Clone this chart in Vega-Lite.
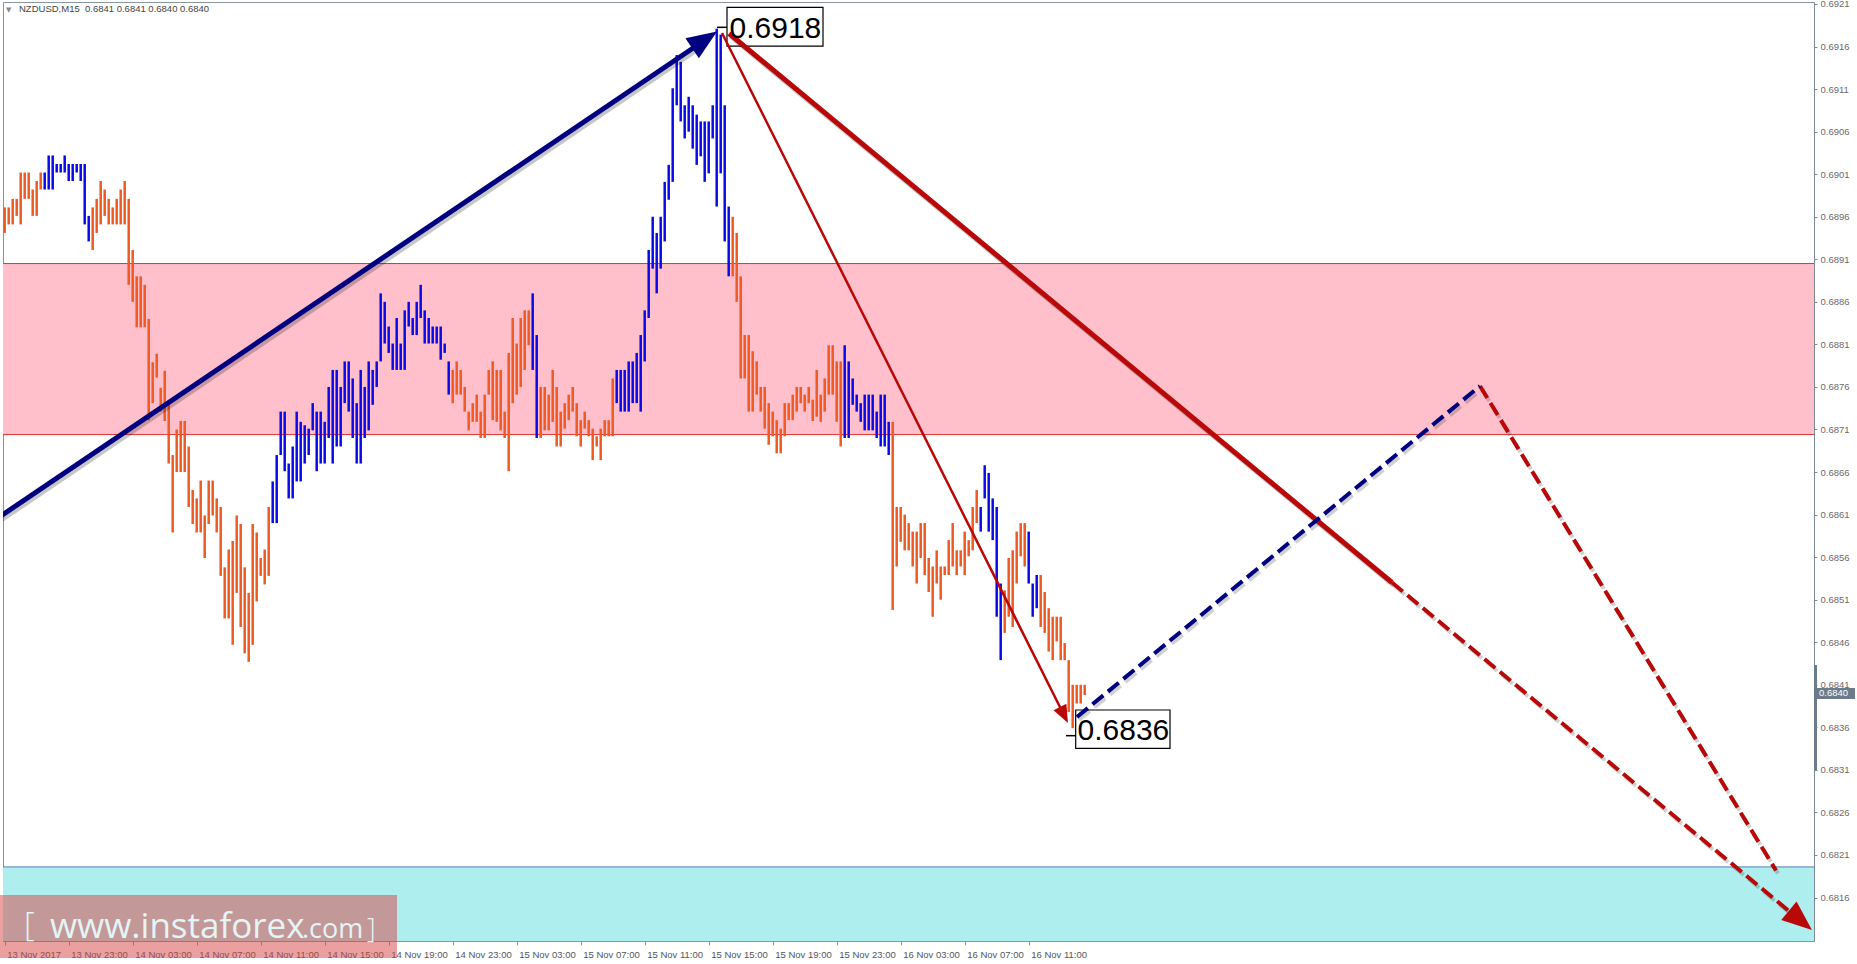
{
"$schema": "https://vega.github.io/schema/vega-lite/v6.json",
"width": 1811, "height": 939,
"autosize": "none",
"padding": {"left": 3, "top": 2, "right": 43, "bottom": 23},
"background": "#ffffff",
"config": {"view": {"stroke": "#8795a1", "strokeWidth": 1}, "font": "Liberation Sans"},
"encoding": {
  "x": {"field": "t", "type": "temporal",
    "scale": {"type": "utc", "domain": [{"year":2017,"month":11,"date":13,"hours":18,"minutes":53,"seconds":37,"milliseconds":500,"utc":true},{"year":2017,"month":11,"date":18,"hours":12,"minutes":4,"seconds":52,"milliseconds":500,"utc":true}]},
    "axis": {"title": null, "grid": false, "values": [
      {"year":2017,"month":11,"date":13,"hours":19,"utc":true},{"year":2017,"month":11,"date":13,"hours":23,"utc":true},
      {"year":2017,"month":11,"date":14,"hours":3,"utc":true},{"year":2017,"month":11,"date":14,"hours":7,"utc":true},
      {"year":2017,"month":11,"date":14,"hours":11,"utc":true},{"year":2017,"month":11,"date":14,"hours":15,"utc":true},
      {"year":2017,"month":11,"date":14,"hours":19,"utc":true},{"year":2017,"month":11,"date":14,"hours":23,"utc":true},
      {"year":2017,"month":11,"date":15,"hours":3,"utc":true},{"year":2017,"month":11,"date":15,"hours":7,"utc":true},
      {"year":2017,"month":11,"date":15,"hours":11,"utc":true},{"year":2017,"month":11,"date":15,"hours":15,"utc":true},
      {"year":2017,"month":11,"date":15,"hours":19,"utc":true},{"year":2017,"month":11,"date":15,"hours":23,"utc":true},
      {"year":2017,"month":11,"date":16,"hours":3,"utc":true},{"year":2017,"month":11,"date":16,"hours":7,"utc":true},
      {"year":2017,"month":11,"date":16,"hours":11,"utc":true}],
      "labelExpr": "datum.index == 0 ? '13 Nov 2017' : utcFormat(datum.value, '%d %b %H:%M')",
      "domainColor": "#8795a1", "tickColor": "#8795a1", "tickSize": 4, "labelAlign": "left", "labelBaseline": "top", "labelPadding": 4, "labelOffset": 2,
      "labelFontSize": 9.5, "labelFont": "Liberation Sans", "labelColor": "#555555", "labelOverlap": false, "labelFlush": false, "labelBound": false}},
  "y": {"field": "p", "type": "quantitative",
    "scale": {"domain": [0.6810894, 0.6921235], "nice": false, "zero": false},
    "axis": {"orient": "right", "title": null, "grid": false, "format": ".4f",
      "values": [0.6816,0.6821,0.6826,0.6831,0.6836,0.6841,0.6846,0.6851,0.6856,0.6861,0.6866,0.6871,0.6876,0.6881,0.6886,0.6891,0.6896,0.6901,0.6906,0.6911,0.6916,0.6921],
      "domainColor": "#7d8b97", "tickColor": "#7d8b97", "tickSize": 3, "labelPadding": 3, "labelAlign": "left", "labelBaseline": "middle",
      "labelFontSize": 9.5, "labelFont": "Liberation Sans", "labelColor": "#6a6a6a", "labelOverlap": false, "labelFlush": false, "labelBound": false}}
},
"layer": [
  {"data": {"values": [{"t":"2017-11-13T18:53:37.500Z","t2":"2017-11-18T12:04:52.500Z","p":0.68905,"p2":0.68704}], "format": {"parse": {"t":"date","t2":"date"}}},
   "mark": {"type": "rect", "fill": "#FFC0CB"}, "encoding": {"x2": {"field": "t2"}, "y2": {"field": "p2"}}},
  {"data": {"values": [{"t":"2017-11-13T18:53:37.500Z","t2":"2017-11-18T12:04:52.500Z","p":0.68905},{"t":"2017-11-13T18:53:37.500Z","t2":"2017-11-18T12:04:52.500Z","p":0.68704}], "format": {"parse": {"t":"date","t2":"date"}}},
   "mark": {"type": "rule", "color": "#E03030", "strokeWidth": 1}, "encoding": {"x2": {"field": "t2"}}},
  {"data": {"values": [{"t":"2017-11-13T18:53:37.500Z","t2":"2017-11-18T12:04:52.500Z","p":0.68196,"p2":0.6810894}], "format": {"parse": {"t":"date","t2":"date"}}},
   "mark": {"type": "rect", "fill": "#AFEEEE"}, "encoding": {"x2": {"field": "t2"}, "y2": {"field": "p2"}}},
  {"data": {"values": [{"t":"2017-11-13T18:53:37.500Z","t2":"2017-11-18T12:04:52.500Z","p":0.68196}], "format": {"parse": {"t":"date","t2":"date"}}},
   "mark": {"type": "rule", "color": "#4D7FB5", "strokeWidth": 1}, "encoding": {"x2": {"field": "t2"}}},
  {"data": {"values": [{"t":"2017-11-13T19:04:52Z","p":0.692002,"s":"\u25bc"}], "format": {"parse": {"t":"date"}}},
   "mark": {"type": "text", "align": "left", "baseline": "alphabetic", "fontSize": 7, "font": "DejaVu Sans", "color": "#8a8a8a"}, "encoding": {"text": {"field": "s"}}},
  {"data": {"values": [{"t":"2017-11-13T19:53:37Z","p":0.692002,"s":"NZDUSD,M15\u00a0\u00a00.6841 0.6841 0.6840 0.6840"}], "format": {"parse": {"t":"date"}}},
   "mark": {"type": "text", "align": "left", "baseline": "alphabetic", "fontSize": 9.5, "font": "Liberation Sans", "color": "#444444"}, "encoding": {"text": {"field": "s"}}},
  {"data": {"format": {"parse": {"t": "date"}}, "values": [
{"t":"2017-11-13T19:00Z","p":0.68971,"p2":0.68941,"d":"dn"},
{"t":"2017-11-13T19:15Z","p":0.68971,"p2":0.68951,"d":"dn"},
{"t":"2017-11-13T19:30Z","p":0.68981,"p2":0.68951,"d":"dn"},
{"t":"2017-11-13T19:45Z","p":0.68981,"p2":0.68961,"d":"dn"},
{"t":"2017-11-13T20:00Z","p":0.69012,"p2":0.68951,"d":"dn"},
{"t":"2017-11-13T20:15Z","p":0.69012,"p2":0.68981,"d":"dn"},
{"t":"2017-11-13T20:30Z","p":0.69012,"p2":0.68981,"d":"dn"},
{"t":"2017-11-13T20:45Z","p":0.68992,"p2":0.68961,"d":"dn"},
{"t":"2017-11-13T21:00Z","p":0.69002,"p2":0.68961,"d":"dn"},
{"t":"2017-11-13T21:15Z","p":0.69012,"p2":0.68992,"d":"dn"},
{"t":"2017-11-13T21:30Z","p":0.69012,"p2":0.68992,"d":"up"},
{"t":"2017-11-13T21:45Z","p":0.69032,"p2":0.68992,"d":"up"},
{"t":"2017-11-13T22:00Z","p":0.69032,"p2":0.68992,"d":"up"},
{"t":"2017-11-13T22:15Z","p":0.69022,"p2":0.69012,"d":"up"},
{"t":"2017-11-13T22:30Z","p":0.69022,"p2":0.69012,"d":"up"},
{"t":"2017-11-13T22:45Z","p":0.69032,"p2":0.69012,"d":"up"},
{"t":"2017-11-13T23:00Z","p":0.69022,"p2":0.69002,"d":"up"},
{"t":"2017-11-13T23:15Z","p":0.69022,"p2":0.69002,"d":"up"},
{"t":"2017-11-13T23:30Z","p":0.69022,"p2":0.69012,"d":"up"},
{"t":"2017-11-13T23:45Z","p":0.69022,"p2":0.69002,"d":"up"},
{"t":"2017-11-14T00:00Z","p":0.69022,"p2":0.68951,"d":"up"},
{"t":"2017-11-14T00:15Z","p":0.68961,"p2":0.68931,"d":"up"},
{"t":"2017-11-14T00:30Z","p":0.68971,"p2":0.68921,"d":"dn"},
{"t":"2017-11-14T00:45Z","p":0.68981,"p2":0.68941,"d":"dn"},
{"t":"2017-11-14T01:00Z","p":0.69002,"p2":0.68951,"d":"dn"},
{"t":"2017-11-14T01:15Z","p":0.68992,"p2":0.68961,"d":"dn"},
{"t":"2017-11-14T01:30Z","p":0.68981,"p2":0.68951,"d":"dn"},
{"t":"2017-11-14T01:45Z","p":0.68971,"p2":0.68951,"d":"dn"},
{"t":"2017-11-14T02:00Z","p":0.68981,"p2":0.68951,"d":"dn"},
{"t":"2017-11-14T02:15Z","p":0.68992,"p2":0.68951,"d":"dn"},
{"t":"2017-11-14T02:30Z","p":0.69002,"p2":0.68951,"d":"dn"},
{"t":"2017-11-14T02:45Z","p":0.68981,"p2":0.68880,"d":"dn"},
{"t":"2017-11-14T03:00Z","p":0.68921,"p2":0.68860,"d":"dn"},
{"t":"2017-11-14T03:15Z","p":0.68890,"p2":0.68830,"d":"dn"},
{"t":"2017-11-14T03:30Z","p":0.68890,"p2":0.68830,"d":"dn"},
{"t":"2017-11-14T03:45Z","p":0.68880,"p2":0.68830,"d":"dn"},
{"t":"2017-11-14T04:00Z","p":0.68840,"p2":0.68721,"d":"dn"},
{"t":"2017-11-14T04:15Z","p":0.68789,"p2":0.68741,"d":"dn"},
{"t":"2017-11-14T04:30Z","p":0.68799,"p2":0.68771,"d":"dn"},
{"t":"2017-11-14T04:45Z","p":0.68759,"p2":0.68731,"d":"dn"},
{"t":"2017-11-14T05:00Z","p":0.68779,"p2":0.68720,"d":"dn"},
{"t":"2017-11-14T05:15Z","p":0.68739,"p2":0.68670,"d":"dn"},
{"t":"2017-11-14T05:30Z","p":0.68680,"p2":0.68589,"d":"dn"},
{"t":"2017-11-14T05:45Z","p":0.68710,"p2":0.68660,"d":"dn"},
{"t":"2017-11-14T06:00Z","p":0.68720,"p2":0.68660,"d":"dn"},
{"t":"2017-11-14T06:15Z","p":0.68720,"p2":0.68660,"d":"dn"},
{"t":"2017-11-14T06:30Z","p":0.68690,"p2":0.68619,"d":"dn"},
{"t":"2017-11-14T06:45Z","p":0.68639,"p2":0.68599,"d":"dn"},
{"t":"2017-11-14T07:00Z","p":0.68629,"p2":0.68589,"d":"dn"},
{"t":"2017-11-14T07:15Z","p":0.68650,"p2":0.68589,"d":"dn"},
{"t":"2017-11-14T07:30Z","p":0.68609,"p2":0.68559,"d":"dn"},
{"t":"2017-11-14T07:45Z","p":0.68650,"p2":0.68599,"d":"dn"},
{"t":"2017-11-14T08:00Z","p":0.68650,"p2":0.68609,"d":"dn"},
{"t":"2017-11-14T08:15Z","p":0.68629,"p2":0.68589,"d":"dn"},
{"t":"2017-11-14T08:30Z","p":0.68619,"p2":0.68538,"d":"dn"},
{"t":"2017-11-14T08:45Z","p":0.68548,"p2":0.68488,"d":"dn"},
{"t":"2017-11-14T09:00Z","p":0.68569,"p2":0.68488,"d":"dn"},
{"t":"2017-11-14T09:15Z","p":0.68579,"p2":0.68457,"d":"dn"},
{"t":"2017-11-14T09:30Z","p":0.68609,"p2":0.68518,"d":"dn"},
{"t":"2017-11-14T09:45Z","p":0.68599,"p2":0.68478,"d":"dn"},
{"t":"2017-11-14T10:00Z","p":0.68548,"p2":0.68447,"d":"dn"},
{"t":"2017-11-14T10:15Z","p":0.68518,"p2":0.68437,"d":"dn"},
{"t":"2017-11-14T10:30Z","p":0.68599,"p2":0.68457,"d":"dn"},
{"t":"2017-11-14T10:45Z","p":0.68589,"p2":0.68508,"d":"dn"},
{"t":"2017-11-14T11:00Z","p":0.68559,"p2":0.68538,"d":"dn"},
{"t":"2017-11-14T11:15Z","p":0.68569,"p2":0.68528,"d":"dn"},
{"t":"2017-11-14T11:30Z","p":0.68619,"p2":0.68538,"d":"dn"},
{"t":"2017-11-14T11:45Z","p":0.68649,"p2":0.68600,"d":"up"},
{"t":"2017-11-14T12:00Z","p":0.68680,"p2":0.68600,"d":"up"},
{"t":"2017-11-14T12:15Z","p":0.68731,"p2":0.68680,"d":"up"},
{"t":"2017-11-14T12:30Z","p":0.68731,"p2":0.68661,"d":"up"},
{"t":"2017-11-14T12:45Z","p":0.68670,"p2":0.68629,"d":"up"},
{"t":"2017-11-14T13:00Z","p":0.68690,"p2":0.68629,"d":"up"},
{"t":"2017-11-14T13:15Z","p":0.68731,"p2":0.68649,"d":"up"},
{"t":"2017-11-14T13:30Z","p":0.68719,"p2":0.68649,"d":"up"},
{"t":"2017-11-14T13:45Z","p":0.68715,"p2":0.68670,"d":"up"},
{"t":"2017-11-14T14:00Z","p":0.68711,"p2":0.68680,"d":"up"},
{"t":"2017-11-14T14:15Z","p":0.68741,"p2":0.68709,"d":"up"},
{"t":"2017-11-14T14:30Z","p":0.68731,"p2":0.68661,"d":"up"},
{"t":"2017-11-14T14:45Z","p":0.68731,"p2":0.68670,"d":"up"},
{"t":"2017-11-14T15:00Z","p":0.68719,"p2":0.68670,"d":"up"},
{"t":"2017-11-14T15:15Z","p":0.68760,"p2":0.68700,"d":"up"},
{"t":"2017-11-14T15:30Z","p":0.68780,"p2":0.68670,"d":"up"},
{"t":"2017-11-14T15:45Z","p":0.68780,"p2":0.68690,"d":"up"},
{"t":"2017-11-14T16:00Z","p":0.68760,"p2":0.68690,"d":"up"},
{"t":"2017-11-14T16:15Z","p":0.68790,"p2":0.68741,"d":"up"},
{"t":"2017-11-14T16:30Z","p":0.68790,"p2":0.68731,"d":"up"},
{"t":"2017-11-14T16:45Z","p":0.68770,"p2":0.68700,"d":"up"},
{"t":"2017-11-14T17:00Z","p":0.68741,"p2":0.68670,"d":"up"},
{"t":"2017-11-14T17:15Z","p":0.68780,"p2":0.68670,"d":"up"},
{"t":"2017-11-14T17:30Z","p":0.68760,"p2":0.68700,"d":"up"},
{"t":"2017-11-14T17:45Z","p":0.68790,"p2":0.68709,"d":"up"},
{"t":"2017-11-14T18:00Z","p":0.68780,"p2":0.68739,"d":"up"},
{"t":"2017-11-14T18:15Z","p":0.68790,"p2":0.68760,"d":"up"},
{"t":"2017-11-14T18:30Z","p":0.68870,"p2":0.68790,"d":"up"},
{"t":"2017-11-14T18:45Z","p":0.68860,"p2":0.68811,"d":"up"},
{"t":"2017-11-14T19:00Z","p":0.68831,"p2":0.68800,"d":"up"},
{"t":"2017-11-14T19:15Z","p":0.68811,"p2":0.68780,"d":"up"},
{"t":"2017-11-14T19:30Z","p":0.68841,"p2":0.68780,"d":"up"},
{"t":"2017-11-14T19:45Z","p":0.68811,"p2":0.68780,"d":"up"},
{"t":"2017-11-14T20:00Z","p":0.68850,"p2":0.68780,"d":"up"},
{"t":"2017-11-14T20:15Z","p":0.68860,"p2":0.68831,"d":"up"},
{"t":"2017-11-14T20:30Z","p":0.68841,"p2":0.68821,"d":"up"},
{"t":"2017-11-14T20:45Z","p":0.68860,"p2":0.68821,"d":"up"},
{"t":"2017-11-14T21:00Z","p":0.68880,"p2":0.68841,"d":"up"},
{"t":"2017-11-14T21:15Z","p":0.68850,"p2":0.68811,"d":"up"},
{"t":"2017-11-14T21:30Z","p":0.68841,"p2":0.68811,"d":"up"},
{"t":"2017-11-14T21:45Z","p":0.68831,"p2":0.68811,"d":"up"},
{"t":"2017-11-14T22:00Z","p":0.68831,"p2":0.68811,"d":"up"},
{"t":"2017-11-14T22:15Z","p":0.68831,"p2":0.68792,"d":"up"},
{"t":"2017-11-14T22:30Z","p":0.68811,"p2":0.68800,"d":"up"},
{"t":"2017-11-14T22:45Z","p":0.68790,"p2":0.68751,"d":"up"},
{"t":"2017-11-14T23:00Z","p":0.68780,"p2":0.68741,"d":"dn"},
{"t":"2017-11-14T23:15Z","p":0.68790,"p2":0.68751,"d":"dn"},
{"t":"2017-11-14T23:30Z","p":0.68780,"p2":0.68751,"d":"dn"},
{"t":"2017-11-14T23:45Z","p":0.68760,"p2":0.68731,"d":"dn"},
{"t":"2017-11-15T00:00Z","p":0.68731,"p2":0.68709,"d":"dn"},
{"t":"2017-11-15T00:15Z","p":0.68741,"p2":0.68719,"d":"dn"},
{"t":"2017-11-15T00:30Z","p":0.68751,"p2":0.68719,"d":"dn"},
{"t":"2017-11-15T00:45Z","p":0.68731,"p2":0.68700,"d":"dn"},
{"t":"2017-11-15T01:00Z","p":0.68751,"p2":0.68700,"d":"dn"},
{"t":"2017-11-15T01:15Z","p":0.68780,"p2":0.68751,"d":"dn"},
{"t":"2017-11-15T01:30Z","p":0.68790,"p2":0.68721,"d":"dn"},
{"t":"2017-11-15T01:45Z","p":0.68780,"p2":0.68719,"d":"dn"},
{"t":"2017-11-15T02:00Z","p":0.68780,"p2":0.68709,"d":"dn"},
{"t":"2017-11-15T02:15Z","p":0.68731,"p2":0.68700,"d":"dn"},
{"t":"2017-11-15T02:30Z","p":0.68800,"p2":0.68661,"d":"dn"},
{"t":"2017-11-15T02:45Z","p":0.68841,"p2":0.68741,"d":"dn"},
{"t":"2017-11-15T03:00Z","p":0.68811,"p2":0.68751,"d":"dn"},
{"t":"2017-11-15T03:15Z","p":0.68841,"p2":0.68760,"d":"dn"},
{"t":"2017-11-15T03:30Z","p":0.68850,"p2":0.68780,"d":"dn"},
{"t":"2017-11-15T03:45Z","p":0.68850,"p2":0.68809,"d":"dn"},
{"t":"2017-11-15T04:00Z","p":0.68870,"p2":0.68780,"d":"up"},
{"t":"2017-11-15T04:15Z","p":0.68821,"p2":0.68700,"d":"up"},
{"t":"2017-11-15T04:30Z","p":0.68760,"p2":0.68700,"d":"dn"},
{"t":"2017-11-15T04:45Z","p":0.68760,"p2":0.68709,"d":"dn"},
{"t":"2017-11-15T05:00Z","p":0.68751,"p2":0.68709,"d":"dn"},
{"t":"2017-11-15T05:15Z","p":0.68780,"p2":0.68719,"d":"dn"},
{"t":"2017-11-15T05:30Z","p":0.68760,"p2":0.68690,"d":"dn"},
{"t":"2017-11-15T05:45Z","p":0.68731,"p2":0.68690,"d":"dn"},
{"t":"2017-11-15T06:00Z","p":0.68741,"p2":0.68711,"d":"dn"},
{"t":"2017-11-15T06:15Z","p":0.68751,"p2":0.68721,"d":"dn"},
{"t":"2017-11-15T06:30Z","p":0.68760,"p2":0.68731,"d":"dn"},
{"t":"2017-11-15T06:45Z","p":0.68741,"p2":0.68702,"d":"dn"},
{"t":"2017-11-15T07:00Z","p":0.68721,"p2":0.68690,"d":"dn"},
{"t":"2017-11-15T07:15Z","p":0.68731,"p2":0.68711,"d":"dn"},
{"t":"2017-11-15T07:30Z","p":0.68721,"p2":0.68702,"d":"dn"},
{"t":"2017-11-15T07:45Z","p":0.68711,"p2":0.68674,"d":"dn"},
{"t":"2017-11-15T08:00Z","p":0.68702,"p2":0.68690,"d":"dn"},
{"t":"2017-11-15T08:15Z","p":0.68711,"p2":0.68674,"d":"dn"},
{"t":"2017-11-15T08:30Z","p":0.68721,"p2":0.68702,"d":"dn"},
{"t":"2017-11-15T08:45Z","p":0.68721,"p2":0.68702,"d":"dn"},
{"t":"2017-11-15T09:00Z","p":0.68770,"p2":0.68702,"d":"dn"},
{"t":"2017-11-15T09:15Z","p":0.68780,"p2":0.68741,"d":"up"},
{"t":"2017-11-15T09:30Z","p":0.68780,"p2":0.68731,"d":"up"},
{"t":"2017-11-15T09:45Z","p":0.68780,"p2":0.68731,"d":"up"},
{"t":"2017-11-15T10:00Z","p":0.68790,"p2":0.68731,"d":"up"},
{"t":"2017-11-15T10:15Z","p":0.68790,"p2":0.68741,"d":"up"},
{"t":"2017-11-15T10:30Z","p":0.68800,"p2":0.68741,"d":"up"},
{"t":"2017-11-15T10:45Z","p":0.68821,"p2":0.68731,"d":"up"},
{"t":"2017-11-15T11:00Z","p":0.68850,"p2":0.68790,"d":"up"},
{"t":"2017-11-15T11:15Z","p":0.68921,"p2":0.68841,"d":"up"},
{"t":"2017-11-15T11:30Z","p":0.68960,"p2":0.68899,"d":"up"},
{"t":"2017-11-15T11:45Z","p":0.68941,"p2":0.68870,"d":"up"},
{"t":"2017-11-15T12:00Z","p":0.68960,"p2":0.68899,"d":"up"},
{"t":"2017-11-15T12:15Z","p":0.69001,"p2":0.68931,"d":"up"},
{"t":"2017-11-15T12:30Z","p":0.69021,"p2":0.68980,"d":"up"},
{"t":"2017-11-15T12:45Z","p":0.69111,"p2":0.69001,"d":"up"},
{"t":"2017-11-15T13:00Z","p":0.69150,"p2":0.69091,"d":"up"},
{"t":"2017-11-15T13:15Z","p":0.69142,"p2":0.69072,"d":"up"},
{"t":"2017-11-15T13:30Z","p":0.69091,"p2":0.69052,"d":"up"},
{"t":"2017-11-15T13:45Z","p":0.69101,"p2":0.69060,"d":"up"},
{"t":"2017-11-15T14:00Z","p":0.69091,"p2":0.69040,"d":"up"},
{"t":"2017-11-15T14:15Z","p":0.69080,"p2":0.69021,"d":"up"},
{"t":"2017-11-15T14:30Z","p":0.69072,"p2":0.69031,"d":"up"},
{"t":"2017-11-15T14:45Z","p":0.69072,"p2":0.69001,"d":"up"},
{"t":"2017-11-15T15:00Z","p":0.69072,"p2":0.69011,"d":"up"},
{"t":"2017-11-15T15:15Z","p":0.69091,"p2":0.69052,"d":"up"},
{"t":"2017-11-15T15:30Z","p":0.69181,"p2":0.68972,"d":"up"},
{"t":"2017-11-15T15:45Z","p":0.69174,"p2":0.69011,"d":"up"},
{"t":"2017-11-15T16:00Z","p":0.69091,"p2":0.68931,"d":"up"},
{"t":"2017-11-15T16:15Z","p":0.68972,"p2":0.68890,"d":"up"},
{"t":"2017-11-15T16:30Z","p":0.68960,"p2":0.68890,"d":"dn"},
{"t":"2017-11-15T16:45Z","p":0.68941,"p2":0.68860,"d":"dn"},
{"t":"2017-11-15T17:00Z","p":0.68890,"p2":0.68770,"d":"dn"},
{"t":"2017-11-15T17:15Z","p":0.68821,"p2":0.68770,"d":"dn"},
{"t":"2017-11-15T17:30Z","p":0.68821,"p2":0.68731,"d":"dn"},
{"t":"2017-11-15T17:45Z","p":0.68802,"p2":0.68731,"d":"dn"},
{"t":"2017-11-15T18:00Z","p":0.68790,"p2":0.68751,"d":"dn"},
{"t":"2017-11-15T18:15Z","p":0.68760,"p2":0.68731,"d":"dn"},
{"t":"2017-11-15T18:30Z","p":0.68760,"p2":0.68711,"d":"dn"},
{"t":"2017-11-15T18:45Z","p":0.68741,"p2":0.68692,"d":"dn"},
{"t":"2017-11-15T19:00Z","p":0.68731,"p2":0.68702,"d":"dn"},
{"t":"2017-11-15T19:15Z","p":0.68721,"p2":0.68682,"d":"dn"},
{"t":"2017-11-15T19:30Z","p":0.68711,"p2":0.68682,"d":"dn"},
{"t":"2017-11-15T19:45Z","p":0.68741,"p2":0.68702,"d":"dn"},
{"t":"2017-11-15T20:00Z","p":0.68741,"p2":0.68721,"d":"dn"},
{"t":"2017-11-15T20:15Z","p":0.68751,"p2":0.68721,"d":"dn"},
{"t":"2017-11-15T20:30Z","p":0.68760,"p2":0.68731,"d":"dn"},
{"t":"2017-11-15T20:45Z","p":0.68760,"p2":0.68741,"d":"dn"},
{"t":"2017-11-15T21:00Z","p":0.68751,"p2":0.68731,"d":"dn"},
{"t":"2017-11-15T21:15Z","p":0.68760,"p2":0.68741,"d":"dn"},
{"t":"2017-11-15T21:30Z","p":0.68745,"p2":0.68720,"d":"dn"},
{"t":"2017-11-15T21:45Z","p":0.68780,"p2":0.68725,"d":"dn"},
{"t":"2017-11-15T22:00Z","p":0.68751,"p2":0.68719,"d":"dn"},
{"t":"2017-11-15T22:15Z","p":0.68770,"p2":0.68731,"d":"dn"},
{"t":"2017-11-15T22:30Z","p":0.68809,"p2":0.68751,"d":"dn"},
{"t":"2017-11-15T22:45Z","p":0.68809,"p2":0.68751,"d":"dn"},
{"t":"2017-11-15T23:00Z","p":0.68790,"p2":0.68719,"d":"dn"},
{"t":"2017-11-15T23:15Z","p":0.68790,"p2":0.68690,"d":"dn"},
{"t":"2017-11-15T23:30Z","p":0.68809,"p2":0.68700,"d":"up"},
{"t":"2017-11-15T23:45Z","p":0.68790,"p2":0.68700,"d":"up"},
{"t":"2017-11-16T00:00Z","p":0.68770,"p2":0.68739,"d":"up"},
{"t":"2017-11-16T00:15Z","p":0.68751,"p2":0.68731,"d":"up"},
{"t":"2017-11-16T00:30Z","p":0.68741,"p2":0.68719,"d":"up"},
{"t":"2017-11-16T00:45Z","p":0.68751,"p2":0.68709,"d":"up"},
{"t":"2017-11-16T01:00Z","p":0.68751,"p2":0.68709,"d":"up"},
{"t":"2017-11-16T01:15Z","p":0.68751,"p2":0.68709,"d":"up"},
{"t":"2017-11-16T01:30Z","p":0.68731,"p2":0.68700,"d":"up"},
{"t":"2017-11-16T01:45Z","p":0.68751,"p2":0.68690,"d":"up"},
{"t":"2017-11-16T02:00Z","p":0.68751,"p2":0.68690,"d":"up"},
{"t":"2017-11-16T02:15Z","p":0.68719,"p2":0.68680,"d":"up"},
{"t":"2017-11-16T02:30Z","p":0.68719,"p2":0.68498,"d":"dn"},
{"t":"2017-11-16T02:45Z","p":0.68619,"p2":0.68549,"d":"dn"},
{"t":"2017-11-16T03:00Z","p":0.68619,"p2":0.68578,"d":"dn"},
{"t":"2017-11-16T03:15Z","p":0.68610,"p2":0.68568,"d":"dn"},
{"t":"2017-11-16T03:30Z","p":0.68600,"p2":0.68568,"d":"dn"},
{"t":"2017-11-16T03:45Z","p":0.68590,"p2":0.68549,"d":"dn"},
{"t":"2017-11-16T04:00Z","p":0.68590,"p2":0.68529,"d":"dn"},
{"t":"2017-11-16T04:15Z","p":0.68600,"p2":0.68559,"d":"dn"},
{"t":"2017-11-16T04:30Z","p":0.68600,"p2":0.68539,"d":"dn"},
{"t":"2017-11-16T04:45Z","p":0.68559,"p2":0.68519,"d":"dn"},
{"t":"2017-11-16T05:00Z","p":0.68549,"p2":0.68490,"d":"dn"},
{"t":"2017-11-16T05:15Z","p":0.68568,"p2":0.68529,"d":"dn"},
{"t":"2017-11-16T05:30Z","p":0.68549,"p2":0.68510,"d":"dn"},
{"t":"2017-11-16T05:45Z","p":0.68549,"p2":0.68539,"d":"dn"},
{"t":"2017-11-16T06:00Z","p":0.68580,"p2":0.68539,"d":"dn"},
{"t":"2017-11-16T06:15Z","p":0.68600,"p2":0.68549,"d":"dn"},
{"t":"2017-11-16T06:30Z","p":0.68568,"p2":0.68539,"d":"dn"},
{"t":"2017-11-16T06:45Z","p":0.68568,"p2":0.68549,"d":"dn"},
{"t":"2017-11-16T07:00Z","p":0.68590,"p2":0.68539,"d":"dn"},
{"t":"2017-11-16T07:15Z","p":0.68580,"p2":0.68561,"d":"dn"},
{"t":"2017-11-16T07:30Z","p":0.68619,"p2":0.68568,"d":"dn"},
{"t":"2017-11-16T07:45Z","p":0.68639,"p2":0.68600,"d":"dn"},
{"t":"2017-11-16T08:00Z","p":0.68619,"p2":0.68590,"d":"up"},
{"t":"2017-11-16T08:15Z","p":0.68668,"p2":0.68629,"d":"up"},
{"t":"2017-11-16T08:30Z","p":0.68659,"p2":0.68590,"d":"up"},
{"t":"2017-11-16T08:45Z","p":0.68629,"p2":0.68580,"d":"up"},
{"t":"2017-11-16T09:00Z","p":0.68619,"p2":0.68490,"d":"up"},
{"t":"2017-11-16T09:15Z","p":0.68529,"p2":0.68439,"d":"up"},
{"t":"2017-11-16T09:30Z","p":0.68521,"p2":0.68471,"d":"dn"},
{"t":"2017-11-16T09:45Z","p":0.68559,"p2":0.68490,"d":"dn"},
{"t":"2017-11-16T10:00Z","p":0.68568,"p2":0.68478,"d":"dn"},
{"t":"2017-11-16T10:15Z","p":0.68590,"p2":0.68529,"d":"dn"},
{"t":"2017-11-16T10:30Z","p":0.68600,"p2":0.68561,"d":"dn"},
{"t":"2017-11-16T10:45Z","p":0.68600,"p2":0.68549,"d":"dn"},
{"t":"2017-11-16T11:00Z","p":0.68590,"p2":0.68529,"d":"up"},
{"t":"2017-11-16T11:15Z","p":0.68529,"p2":0.68490,"d":"up"},
{"t":"2017-11-16T11:30Z","p":0.68539,"p2":0.68500,"d":"up"},
{"t":"2017-11-16T11:45Z","p":0.68539,"p2":0.68478,"d":"dn"},
{"t":"2017-11-16T12:00Z","p":0.68519,"p2":0.68471,"d":"dn"},
{"t":"2017-11-16T12:15Z","p":0.68500,"p2":0.68449,"d":"dn"},
{"t":"2017-11-16T12:30Z","p":0.68490,"p2":0.68439,"d":"dn"},
{"t":"2017-11-16T12:45Z","p":0.68490,"p2":0.68461,"d":"dn"},
{"t":"2017-11-16T13:00Z","p":0.68490,"p2":0.68439,"d":"dn"},
{"t":"2017-11-16T13:15Z","p":0.68459,"p2":0.68439,"d":"dn"},
{"t":"2017-11-16T13:30Z","p":0.68439,"p2":0.68378,"d":"dn"},
{"t":"2017-11-16T13:45Z","p":0.68410,"p2":0.68359,"d":"dn"},
{"t":"2017-11-16T14:00Z","p":0.68410,"p2":0.68388,"d":"dn"},
{"t":"2017-11-16T14:15Z","p":0.68410,"p2":0.68388,"d":"dn"},
{"t":"2017-11-16T14:30Z","p":0.68410,"p2":0.68398,"d":"dn"}
  ]},
   "mark": {"type": "rule", "strokeWidth": 2.5},
   "encoding": {"y2": {"field": "p2"}, "color": {"field": "d", "type": "nominal", "scale": {"domain": ["up", "dn"], "range": ["#0A0AE6", "#EE5A24"]}, "legend": null}}},
  {"data": {"values": [{"t":"2017-11-15T16:08:37Z","t2":"2017-11-15T22:08:37Z","p":0.692061,"p2":0.691606},{"t":"2017-11-16T13:56:15Z","t2":"2017-11-16T19:49:52Z","p":0.683804,"p2":0.683354}], "format": {"parse": {"t":"date","t2":"date"}}},
   "mark": {"type": "rect", "fill": "#ffffff", "stroke": "#000000", "strokeWidth": 1.2}, "encoding": {"x2": {"field": "t2"}, "y2": {"field": "p2"}}},
  {"data": {"values": [{"t":"2017-11-13T18:04:52Z","p":0.685998,"g":"A"},{"t":"2017-11-15T14:46:07Z","p":0.691677,"g":"A"},{"t":"2017-11-15T16:16:07Z","p":0.691753,"g":"B"},{"t":"2017-11-17T09:42:22Z","p":0.685302,"g":"B"}], "format": {"parse": {"t":"date"}}},
   "mark": {"type": "line", "color": "#000000", "opacity": 0.22, "strokeWidth": 5, "xOffset": 2, "yOffset": 3, "clip": true}, "encoding": {"detail": {"field": "g"}}},
  {"data": {"values": [{"t":"2017-11-17T09:42:22Z","p":0.685302,"g":"B2"},{"t":"2017-11-18T10:53:37Z","p":0.681383,"g":"B2"},{"t":"2017-11-16T14:01:07Z","p":0.683722,"g":"D"},{"t":"2017-11-17T15:12:22Z","p":0.687611,"g":"D"},{"t":"2017-11-17T15:12:22Z","p":0.687611,"g":"E"},{"t":"2017-11-18T09:42:22Z","p":0.681918,"g":"E"}], "format": {"parse": {"t":"date"}}},
   "mark": {"type": "line", "color": "#000000", "opacity": 0.18, "strokeWidth": 4, "strokeDash": [14, 6], "xOffset": 2, "yOffset": 3}, "encoding": {"detail": {"field": "g"}}},
  {"data": {"values": [{"t":"2017-11-13T18:04:52Z","p":0.685998},{"t":"2017-11-15T14:46:07Z","p":0.691677}], "format": {"parse": {"t":"date"}}},
   "mark": {"type": "line", "color": "#000080", "strokeWidth": 5, "clip": true}},
  {"data": {"values": [{"t":"2017-11-15T16:16:07Z","p":0.691753},{"t":"2017-11-17T09:42:22Z","p":0.685302}], "format": {"parse": {"t":"date"}}},
   "mark": {"type": "line", "color": "#B80808", "strokeWidth": 5}},
  {"data": {"values": [{"t":"2017-11-15T15:49:52Z","p":0.691759},{"t":"2017-11-16T13:07:07Z","p":0.683777}], "format": {"parse": {"t":"date"}}},
   "mark": {"type": "line", "color": "#B80808", "strokeWidth": 2.5}},
  {"data": {"values": [{"t":"2017-11-17T09:42:22Z","p":0.685302,"g":"B2"},{"t":"2017-11-18T10:53:37Z","p":0.681383,"g":"B2"},{"t":"2017-11-17T15:12:22Z","p":0.687611,"g":"E"},{"t":"2017-11-18T09:42:22Z","p":0.681918,"g":"E"}], "format": {"parse": {"t":"date"}}},
   "mark": {"type": "line", "color": "#B80808", "strokeWidth": 4, "strokeDash": [14, 6]}, "encoding": {"detail": {"field": "g"}}},
  {"data": {"values": [{"t":"2017-11-16T14:01:07Z","p":0.683722},{"t":"2017-11-17T15:12:22Z","p":0.687611}], "format": {"parse": {"t":"date"}}},
   "mark": {"type": "line", "color": "#000080", "strokeWidth": 4, "strokeDash": [14, 6]}},
  {"data": {"values": [{"t":"2017-11-15T15:31:07Z","p":0.691777}], "format": {"parse": {"t":"date"}}},
   "mark": {"type": "point", "shape": "M0,0L0.8,2L-0.8,2Z", "filled": true, "fill": "#000080", "stroke": null, "size": 900, "angle": 55.9, "opacity": 1}},
  {"data": {"values": [{"t":"2017-11-18T11:57:22Z","p":0.681219}], "format": {"parse": {"t":"date"}}},
   "mark": {"type": "point", "shape": "M0,0L0.8,2L-0.8,2Z", "filled": true, "fill": "#B80808", "stroke": null, "size": 900, "angle": 129.6, "opacity": 1}},
  {"data": {"values": [{"t":"2017-11-16T13:27:22Z","p":0.683651}], "format": {"parse": {"t":"date"}}},
   "mark": {"type": "point", "shape": "M0,0L0.8,2L-0.8,2Z", "filled": true, "fill": "#B80808", "stroke": null, "size": 324, "angle": 153.4, "opacity": 1}},
  {"data": {"values": [{"t":"2017-11-15T15:31:07Z","t2":"2017-11-15T16:08:37Z","p":0.691826},{"t":"2017-11-16T13:19:52Z","t2":"2017-11-16T13:56:15Z","p":0.683502}], "format": {"parse": {"t":"date","t2":"date"}}},
   "mark": {"type": "rule", "color": "#000000", "strokeWidth": 1.5}, "encoding": {"x2": {"field": "t2"}}},
  {"data": {"values": [{"t":"2017-11-15T16:18:00Z","p":0.691706,"s":"0.6918"},{"t":"2017-11-16T14:03:00Z","p":0.683451,"s":"0.6836"}], "format": {"parse": {"t":"date"}}},
   "mark": {"type": "text", "align": "left", "baseline": "alphabetic", "fontSize": 30, "font": "Liberation Sans", "color": "#000000"}, "encoding": {"text": {"field": "s"}}},
  {"data": {"values": [{"t":"2017-11-13T18:42:22Z","t2":"2017-11-14T19:31:07Z","p":0.681630,"p2":0.680890}], "format": {"parse": {"t":"date","t2":"date"}}},
   "mark": {"type": "rect", "fill": "#D84141", "opacity": 0.5}, "encoding": {"x2": {"field": "t2"}, "y2": {"field": "p2"}}},
  {"data": {"values": [{"t":"2017-11-13T20:12:22Z","p":0.681148,"s":"["}], "format": {"parse": {"t":"date"}}},
   "mark": {"type": "text", "align": "left", "baseline": "alphabetic", "fontSize": 33, "fontWeight": 300, "font": "Open Sans", "color": "#E3F5F5"}, "encoding": {"text": {"field": "s"}}},
  {"data": {"values": [{"t":"2017-11-13T21:49:52Z","p":0.681125,"s":"www.instaforex"}], "format": {"parse": {"t":"date"}}},
   "mark": {"type": "text", "align": "left", "baseline": "alphabetic", "fontSize": 35, "font": "Open Sans", "color": "#E3F5F5"}, "encoding": {"text": {"field": "s"}}},
  {"data": {"values": [{"t":"2017-11-14T13:34:52Z","p":0.681125,"s":".com"}], "format": {"parse": {"t":"date"}}},
   "mark": {"type": "text", "align": "left", "baseline": "alphabetic", "fontSize": 27, "font": "Open Sans", "color": "#E3F5F5"}, "encoding": {"text": {"field": "s"}}},
  {"data": {"values": [{"t":"2017-11-14T17:38:37Z","p":0.681125,"s":"]"}], "format": {"parse": {"t":"date"}}},
   "mark": {"type": "text", "align": "left", "baseline": "alphabetic", "fontSize": 27, "fontWeight": 300, "font": "Open Sans", "color": "#E3F5F5"}, "encoding": {"text": {"field": "s"}}},
  {"data": {"values": [{"t":"2017-11-18T12:10:30Z","p":0.684333,"p2":0.683099}], "format": {"parse": {"t":"date"}}},
   "mark": {"type": "rule", "color": "#6C7B8B", "strokeWidth": 3}, "encoding": {"y2": {"field": "p2"}}},
  {"data": {"values": [{"t":"2017-11-18T12:12:22Z","t2":"2017-11-18T14:38:37Z","p":0.684062,"p2":0.683933}], "format": {"parse": {"t":"date","t2":"date"}}},
   "mark": {"type": "rect", "fill": "#6C7B8B"}, "encoding": {"x2": {"field": "t2"}, "y2": {"field": "p2"}}},
  {"data": {"values": [{"t":"2017-11-18T12:23:37Z","p":0.6840,"s":"0.6840"}], "format": {"parse": {"t":"date"}}},
   "mark": {"type": "text", "align": "left", "baseline": "middle", "fontSize": 9.5, "font": "Liberation Sans", "color": "#ffffff"}, "encoding": {"text": {"field": "s"}}}
]
}
